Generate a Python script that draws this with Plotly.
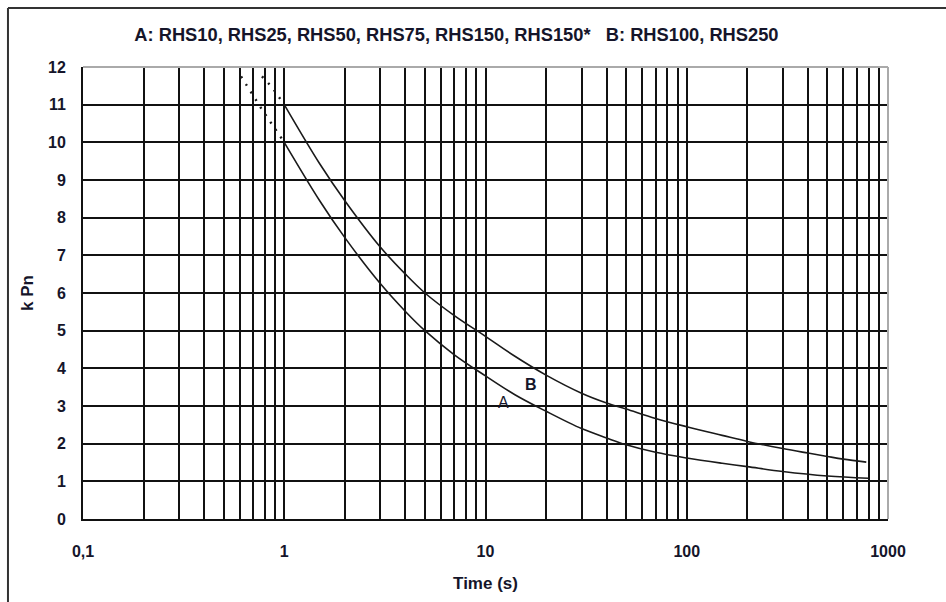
import plotly.graph_objects as go

# Curve A (RHS10, RHS25, RHS50, RHS75, RHS150, RHS150*)
a_t = [1, 1.5, 2, 3, 4, 5, 7, 10, 14, 20, 30, 40, 50, 70, 100, 150, 200, 300, 500, 800]
a_k = [10, 8.45, 7.47, 6.25, 5.51, 5.0, 4.36, 3.8, 3.3, 2.86, 2.4, 2.15, 1.97, 1.77, 1.62, 1.48, 1.39, 1.26, 1.14, 1.08]
a_dot_t = [0.61, 0.775, 1]
a_dot_k = [11.75, 10.87, 10]

# Curve B (RHS100, RHS250)
b_t = [1, 1.5, 2, 3, 4, 5, 7, 10, 14, 20, 30, 40, 50, 70, 100, 150, 200, 300, 400, 500, 600, 780]
b_k = [11, 9.43, 8.45, 7.22, 6.5, 6.0, 5.4, 4.85, 4.32, 3.82, 3.34, 3.08, 2.92, 2.67, 2.45, 2.22, 2.06, 1.87, 1.75, 1.66, 1.59, 1.51]
b_dot_t = [0.775, 0.868, 1]
b_dot_k = [11.75, 11.47, 11]

x_major = [0.1, 1, 10, 100, 1000]
x_major_text = ["0,1", "1", "10", "100", "1000"]
x_minor = [m * d for d in [0.1, 1, 10, 100] for m in range(2, 10)]
y_ticks = list(range(0, 13))

title_text = "A: RHS10, RHS25, RHS50, RHS75, RHS150, RHS150*   B: RHS100, RHS250"

FONT = "Liberation Sans, Arial, sans-serif"
TXT = "#15152a"
GRID = "#111111"

fig = go.Figure()
line_style = dict(color="#1a1a1a", width=1.6)
fig.add_trace(go.Scatter(x=a_t, y=a_k, mode="lines", line=dict(**line_style, shape="spline", smoothing=1.0), showlegend=False))
fig.add_trace(go.Scatter(x=b_t, y=b_k, mode="lines", line=dict(**line_style, shape="spline", smoothing=1.0), showlegend=False))
fig.add_trace(go.Scatter(x=a_dot_t, y=a_dot_k, mode="lines", line=dict(color="#1a1a1a", width=2.4, dash="2px,7px"), showlegend=False))
fig.add_trace(go.Scatter(x=b_dot_t, y=b_dot_k, mode="lines", line=dict(color="#1a1a1a", width=2.4, dash="2px,7px"), showlegend=False))

fig.add_annotation(x=1.0899, y=3.1, xref="x", yref="y", text="A", showarrow=False,
                   font=dict(family=FONT, size=16, color=TXT))
fig.add_annotation(x=1.228, y=3.56, xref="x", yref="y", text="B", showarrow=False,
                   font=dict(family=FONT, size=16, color=TXT, weight="bold"))

fig.update_layout(
    width=946, height=602,
    margin=dict(l=83, r=58, t=67, b=83),
    paper_bgcolor="white", plot_bgcolor="white",
    title=dict(text=title_text, x=0.4825, xanchor="center", y=0.943, yanchor="middle",
               font=dict(family=FONT, size=18.3, color=TXT, weight="bold")),
    xaxis=dict(
        type="log", range=[-1, 3],
        tickmode="array", tickvals=x_major, ticktext=x_major_text,
        showgrid=True, gridcolor=GRID, gridwidth=1.8,
        minor=dict(tickmode="array", tickvals=x_minor, showgrid=True, gridcolor=GRID, gridwidth=1.8, ticks=""),
        ticks="", ticklabelstandoff=17,
        showline=True, linecolor=GRID, linewidth=2,
        tickfont=dict(family=FONT, size=16, color=TXT, weight="bold"),
        title=dict(text="Time (s)", standoff=18, font=dict(family=FONT, size=17, color=TXT, weight="bold")),
        zeroline=False,
    ),
    yaxis=dict(
        range=[0, 12], tickmode="array", tickvals=y_ticks,
        showgrid=True, gridcolor=GRID, gridwidth=1.8,
        ticks="", ticklabelstandoff=12,
        showline=True, linecolor=GRID, linewidth=2,
        tickfont=dict(family=FONT, size=16, color=TXT, weight="bold"),
        title=dict(text="k Pn", standoff=10, font=dict(family=FONT, size=17, color=TXT, weight="bold")),
        zeroline=False,
    ),
    shapes=[
        # gray top and right borders of plot area
        dict(type="line", xref="paper", yref="paper", x0=0, x1=1, y0=1, y1=1, line=dict(color="#aaaaaa", width=2), layer="above"),
        dict(type="line", xref="paper", yref="paper", x0=1, x1=1, y0=0, y1=1, line=dict(color="#aaaaaa", width=2), layer="above"),
        # outer frame (left and top)
        dict(type="line", xref="paper", yref="paper", x0=-0.0932, x1=-0.0932, y0=-0.19, y1=1.1305, line=dict(color="#333333", width=2)),
        dict(type="line", xref="paper", yref="paper", x0=-0.0932, x1=1.08, y0=1.1305, y1=1.1305, line=dict(color="#333333", width=2)),
    ],
)

fig.write_html("out.html")
